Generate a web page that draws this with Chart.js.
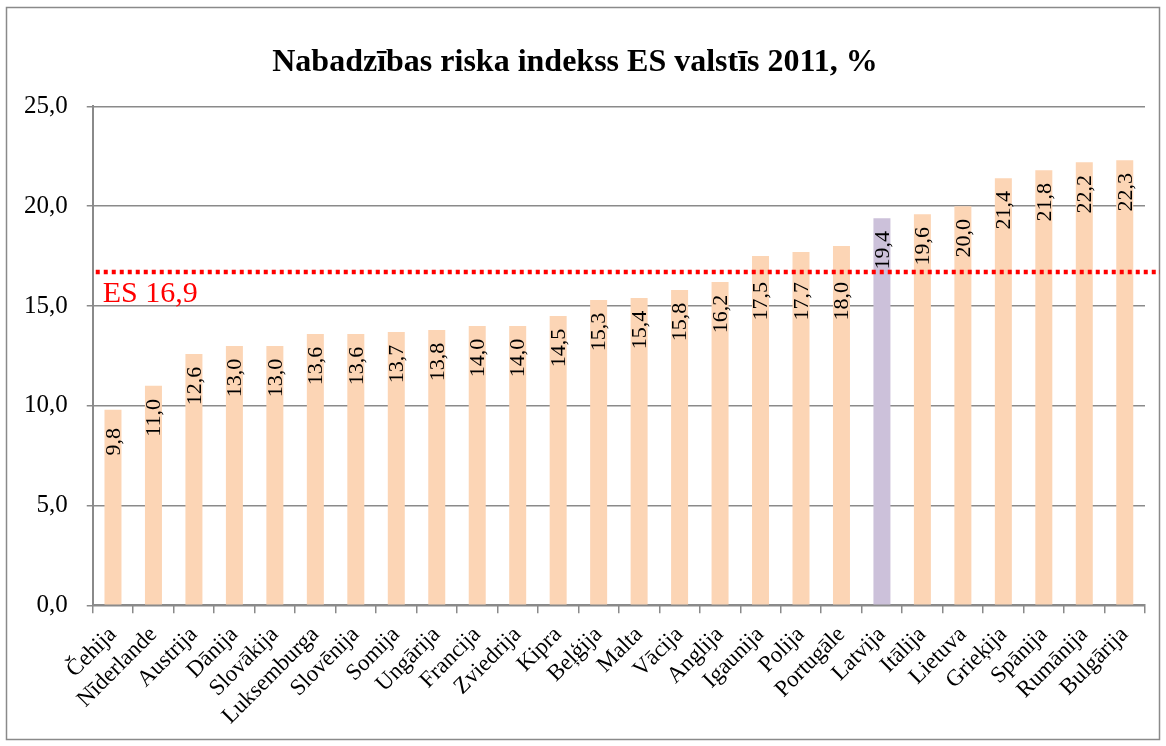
<!DOCTYPE html>
<html>
<head>
<meta charset="utf-8">
<script src="https://cdn.jsdelivr.net/npm/chart.js@4"></script>
<style>
  html, body { margin: 0; padding: 0; background: #fff; }
  #wrap { position: relative; width: 1166px; height: 746px; }
</style>
</head>
<body>
<div id="wrap"><canvas id="chart" width="1166" height="746"></canvas></div>
<script>
const COUNTRIES = ['Čehija', 'Nīderlande', 'Austrija', 'Dānija', 'Slovākija', 'Luksemburga',
  'Slovēnija', 'Somija', 'Ungārija', 'Francija', 'Zviedrija', 'Kipra', 'Beļģija', 'Malta',
  'Vācija', 'Anglija', 'Igaunija', 'Polija', 'Portugāle', 'Latvija', 'Itālija', 'Lietuva',
  'Grieķija', 'Spānija', 'Rumānija', 'Bulgārija'];
const VALUES = [9.8, 11.0, 12.6, 13.0, 13.0, 13.6, 13.6, 13.7, 13.8, 14.0, 14.0, 14.5, 15.3,
  15.4, 15.8, 16.2, 17.5, 17.7, 18.0, 19.4, 19.6, 20.0, 21.4, 21.8, 22.2, 22.3];
const HIGHLIGHT = 'Latvija';
// the dotted EU line sits a little under 17 in the picture, the label says 16,9
const ES_LINE = 16.7;
const ES_LABEL = 'ES 16,9';
const TITLE = 'Nabadzības riska indekss ES valstīs 2011, %';

const SERIF = '"Liberation Serif", "Times New Roman", serif';
const fmt = v => v.toFixed(1).replace('.', ',');

const framePlugin = {
  id: 'frame',
  beforeDraw(chart) {
    const c = chart.ctx;
    c.save();
    c.strokeStyle = '#8a8a8a';
    c.lineWidth = 1.5;
    c.strokeRect(6.5, 7.5, chart.width - 13, chart.height - 14);
    c.restore();
  }
};

const esLinePlugin = {
  id: 'esLine',
  afterDatasetsDraw(chart) {
    const c = chart.ctx;
    const y = chart.scales.y.getPixelForValue(ES_LINE);
    c.save();
    c.strokeStyle = '#ff0000';
    c.lineWidth = 4.5;
    c.setLineDash([4, 4]);
    c.beginPath();
    c.moveTo(chart.scales.x.left + 3, y);
    c.lineTo(chart.width - 6, y);
    c.stroke();
    c.setLineDash([]);
    c.fillStyle = '#ff0000';
    c.font = '30px ' + SERIF;
    c.textBaseline = 'top';
    c.textAlign = 'left';
    c.fillText(ES_LABEL, chart.scales.x.left + 10, y + 7);
    c.restore();
  }
};

// value labels, rotated, inside the top of each bar; pushed under the red line when they would cross it
const valueLabels = {
  id: 'valueLabels',
  afterDraw(chart) {
    const c = chart.ctx;
    const lineY = chart.scales.y.getPixelForValue(ES_LINE);
    const meta = chart.getDatasetMeta(0);
    c.save();
    c.font = '22px ' + SERIF;
    c.fillStyle = '#000';
    c.textAlign = 'center';
    c.textBaseline = 'middle';
    meta.data.forEach((bar, i) => {
      const txt = fmt(VALUES[i]);
      const half = c.measureText(txt).width / 2;
      let cy = bar.y + 32;
      if (cy - half < lineY && cy + half > lineY + 2) cy = lineY + 10 + half;
      c.save();
      c.translate(bar.x, cy);
      c.rotate(-Math.PI / 2);
      c.fillText(txt, 0, 1);
      c.restore();
    });
    c.restore();
  }
};

new Chart(document.getElementById('chart'), {
  type: 'bar',
  data: {
    labels: COUNTRIES,
    datasets: [{
      data: VALUES,
      backgroundColor: COUNTRIES.map(c => c === HIGHLIGHT ? '#ccc1da' : '#fcd5b5'),
      barPercentage: 0.42,
      categoryPercentage: 1,
    }]
  },
  options: {
    responsive: false,
    animation: false,
    layout: {padding: {left: 5, right: 21, top: 24, bottom: 8}},
    plugins: {
      legend: {display: false},
      tooltip: {enabled: false},
      title: {
        display: true,
        text: TITLE,
        color: '#000',
        font: {family: SERIF, size: 32, weight: 'bold'},
        padding: {top: 20, bottom: 24},
      },
    },
    scales: {
      x: {
        grid: {drawOnChartArea: false, drawTicks: true, tickLength: 8, color: '#8a8a8a', lineWidth: 1.5},
        border: {color: '#8a8a8a', width: 2},
        ticks: {
          color: '#000',
          font: {family: SERIF, size: 23},
          minRotation: 45,
          maxRotation: 45,
          autoSkip: false,
          padding: 8,
        },
      },
      y: {
        min: 0,
        max: 25,
        grid: {color: '#8a8a8a', lineWidth: 1.5, tickLength: 6},
        border: {color: '#8a8a8a', width: 2},
        ticks: {
          stepSize: 5,
          color: '#000',
          font: {family: SERIF, size: 25},
          padding: 19,
          callback: v => fmt(v),
        },
      },
    },
  },
  plugins: [framePlugin, esLinePlugin, valueLabels],
});
</script>
</body>
</html>
